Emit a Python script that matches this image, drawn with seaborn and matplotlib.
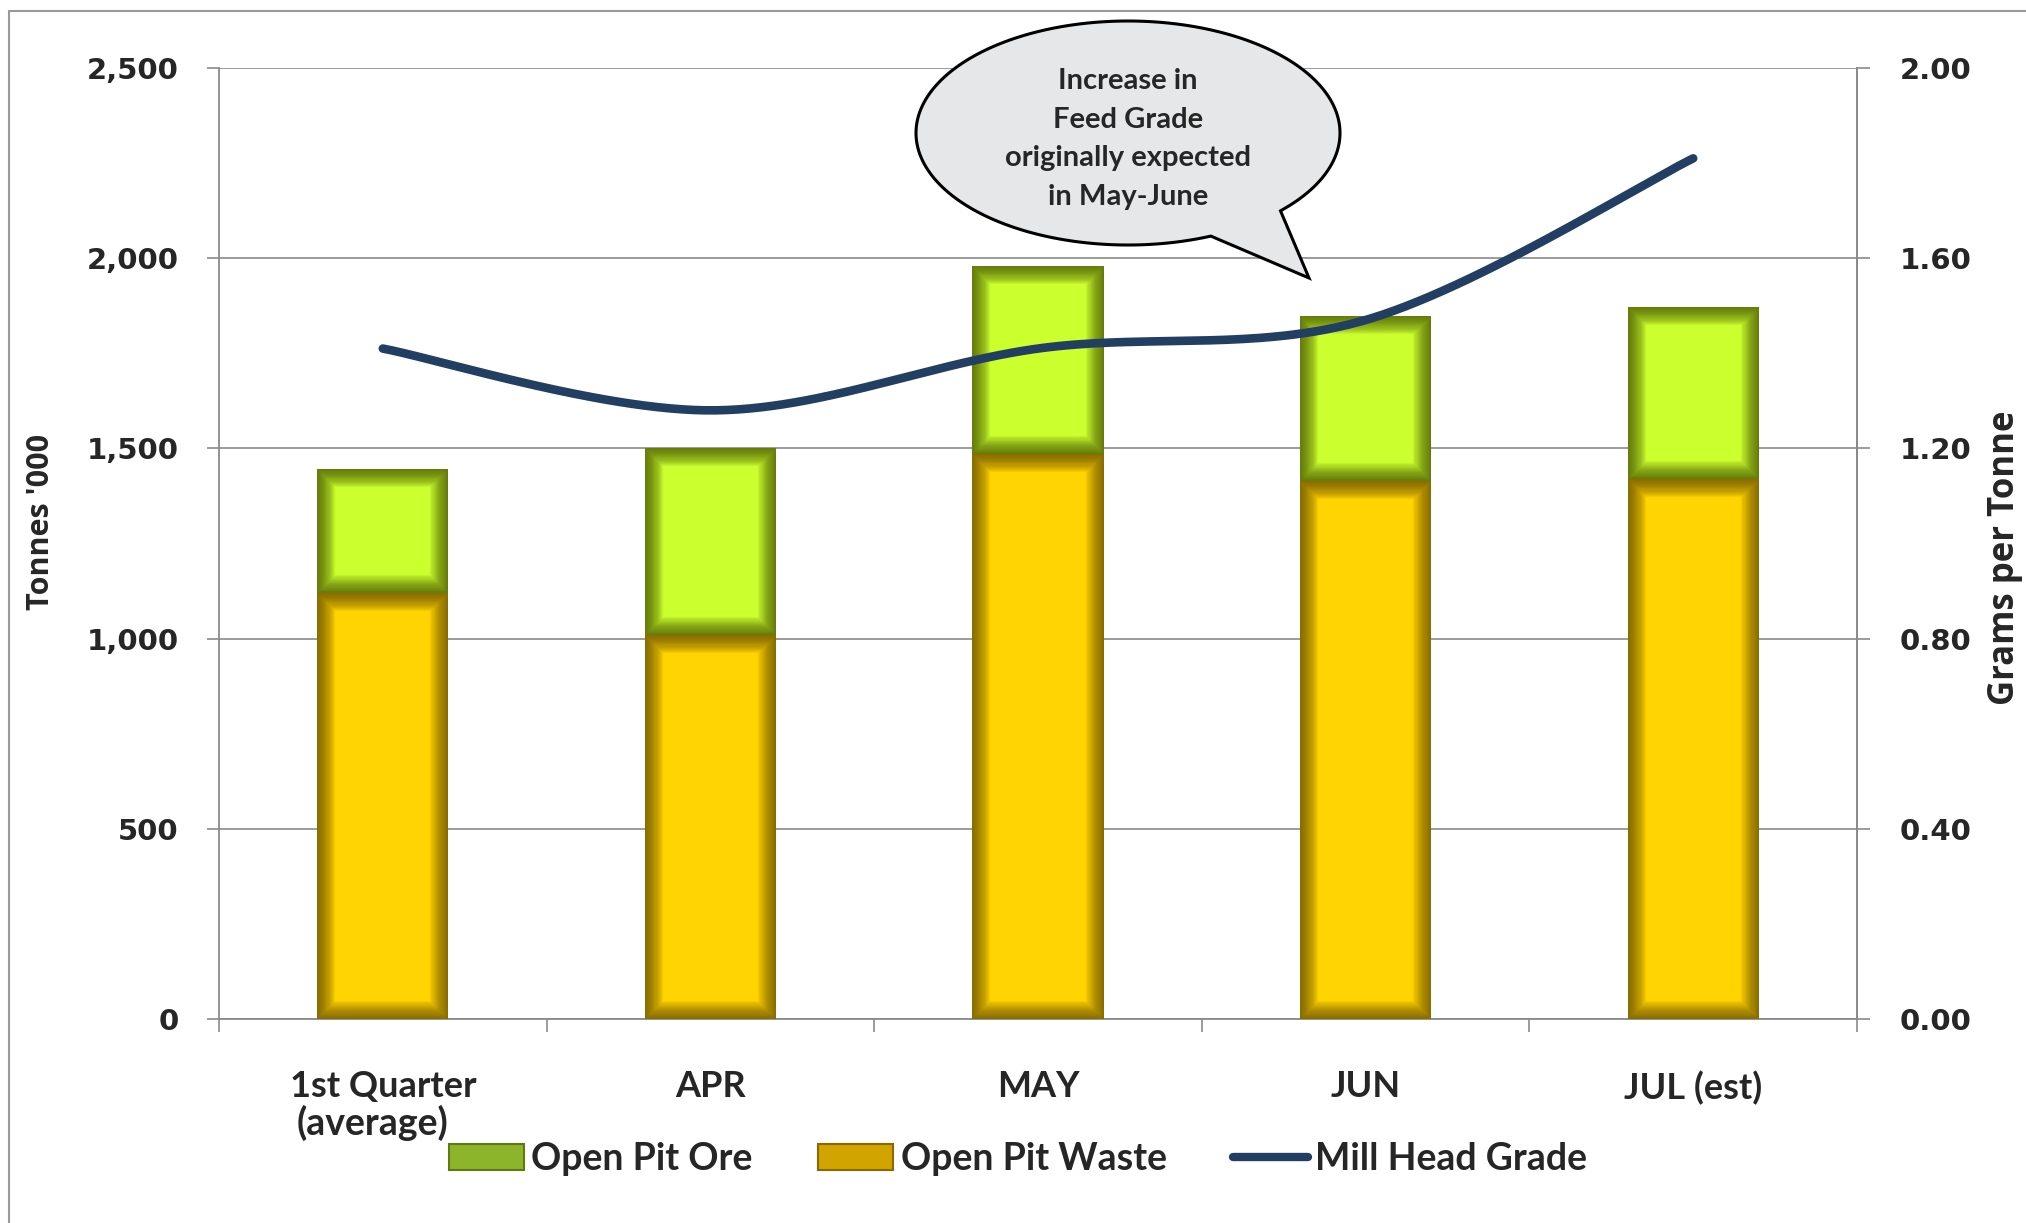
import numpy as np
import pandas as pd
import matplotlib
matplotlib.use("Agg")
import matplotlib.pyplot as plt
import seaborn as sns
from matplotlib.patches import Rectangle, Patch, Polygon
from matplotlib.lines import Line2D
from matplotlib.ticker import FuncFormatter, FixedLocator

# ---------------- data ----------------
categories = ["1st Quarter", "APR", "MAY", "JUN", "JUL (est)"]
open_pit_waste = [1120, 1010, 1485, 1415, 1420]      # Tonnes '000
open_pit_ore = [325, 490, 495, 433, 452]             # Tonnes '000
mill_head_grade = [1.41, 1.28, 1.41, 1.47, 1.81]      # grams per tonne
left_ticks = [0, 500, 1000, 1500, 2000, 2500]
right_ticks = [0.0, 0.4, 0.8, 1.2, 1.6, 2.0]
callout_lines = ["Increase in", "Feed Grade", "originally expected", "in May-June"]

# ---------------- style ----------------
sns.set_theme(style="white")
plt.rcParams["font.family"] = ["Lato", "DejaVu Sans"]

W, H = 2026, 1223
fig = plt.figure(figsize=(W / 100, H / 100), dpi=100)
ax = fig.add_axes([219 / W, 1 - 1019 / H, (1857 - 219) / W, (1019 - 68) / H])

ORE = "#CCFF2E"
ORE_EDGE = "#3E4A00"
WASTE = "#FFD400"
WASTE_EDGE = "#5E4600"
LINE = "#233E63"
GRID = "#8A8A8A"

df = pd.DataFrame({"cat": categories, "waste": open_pit_waste, "ore": open_pit_ore})

# waste segments through seaborn
sns.barplot(data=df, x="cat", y="waste", color=WASTE, saturation=1, width=0.4,
            ax=ax, zorder=3, linewidth=0)
waste_patches = list(ax.patches)
# ore segments stacked on top
xpos = [p.get_x() + p.get_width() / 2 for p in waste_patches]
ore_bars = ax.bar(xpos, df["ore"], bottom=df["waste"], width=0.4, color=ORE,
                  linewidth=0, zorder=3)


def soft_edge(patch, dark):
    for lw in np.linspace(26, 1.5, 16):
        r = Rectangle(patch.get_xy(), patch.get_width(), patch.get_height(),
                      fill=False, edgecolor=dark, lw=lw, alpha=0.07, zorder=4)
        ax.add_patch(r)
        r.set_clip_path(patch)


for p in waste_patches:
    soft_edge(p, WASTE_EDGE)
for p in ore_bars.patches:
    soft_edge(p, ORE_EDGE)

ax.set_xlim(-0.5, len(categories) - 0.5)
ax.set_ylim(0, 2500)
ax.yaxis.set_major_locator(FixedLocator(left_ticks))
ax.yaxis.set_major_formatter(FuncFormatter(lambda v, _: f"{int(v):,}"))
ax.grid(axis="y", color=GRID, lw=1.2, zorder=0)
ax.set_axisbelow(True)
ax.set_xlabel("")
ax.set_ylabel("")

ax.spines["top"].set_visible(False)
for s in ["left", "bottom", "right"]:
    ax.spines[s].set_color(GRID)
    ax.spines[s].set_linewidth(1.3)

ax.tick_params(axis="y", which="major", direction="out", length=9, width=1.2,
               color=GRID, pad=20, left=True)
for t in ax.get_yticklabels():
    t.set_fontfamily("DejaVu Sans")
    t.set_fontweight("bold")
    t.set_fontsize(21)

ax.set_xticks(range(len(categories)))
ax.set_xticklabels(categories, fontsize=26, fontweight="bold")
ax.tick_params(axis="x", which="major", length=0, pad=37)
ax.xaxis.set_minor_locator(FixedLocator(np.arange(-0.5, len(categories), 1.0)))
ax.tick_params(axis="x", which="minor", direction="out", length=9, width=1.2,
               color=GRID, bottom=True)

# second line under the first category label
ax.text(-0.03, -0.109, "(average)", transform=ax.get_xaxis_transform(),
        ha="center", va="center", fontsize=27, fontweight="bold")

# ---------------- line on secondary axis ----------------
ax2 = ax.twinx()
ax2.set_ylim(0, 2.0)
ax2.yaxis.set_major_locator(FixedLocator(right_ticks))
ax2.yaxis.set_major_formatter(FuncFormatter(lambda v, _: f"{v:.2f}"))
ax2.grid(False)
for s in ["top", "left", "bottom"]:
    ax2.spines[s].set_visible(False)
ax2.spines["right"].set_color(GRID)
ax2.spines["right"].set_linewidth(1.3)
ax2.tick_params(axis="y", direction="out", length=9, width=1.2, color=GRID,
                pad=22, right=True)
for t in ax2.get_yticklabels():
    t.set_fontfamily("DejaVu Sans")
    t.set_fontweight("bold")
    t.set_fontsize(21)

# smooth (Excel-style Catmull-Rom) curve through the data points
px = np.arange(len(mill_head_grade), dtype=float)
py = np.asarray(mill_head_grade, dtype=float)
P = np.column_stack([px, py])
Pext = np.vstack([P[0], P, P[-1]])
sx, sy = [], []
tt = np.linspace(0, 1, 60)
for i in range(len(P) - 1):
    p0, p1, p2, p3 = Pext[i], Pext[i + 1], Pext[i + 2], Pext[i + 3]
    c1 = p1 + (p2 - p0) / 6.0
    c2 = p2 - (p3 - p1) / 6.0
    b = ((1 - tt) ** 3)[:, None] * p1 + (3 * (1 - tt) ** 2 * tt)[:, None] * c1 \
        + (3 * (1 - tt) * tt ** 2)[:, None] * c2 + (tt ** 3)[:, None] * p2
    sx.extend(b[:, 0]); sy.extend(b[:, 1])
sns.lineplot(x=sx, y=sy, ax=ax2, color=LINE, lw=6.2, sort=False,
             solid_capstyle="round", estimator=None)
ax2.set_xlim(ax.get_xlim())
ax2.set_ylabel("")
ax2.set_xlabel("")

# axis titles
fig.text(41 / W, 1 - 522 / H, "Tonnes '000", rotation=90, ha="center", va="center",
         fontsize=22, fontweight="bold", family=["Open Sans", "DejaVu Sans"])
fig.text(2005 / W, 1 - 558 / H, "Grams per Tonne", rotation=90, ha="center",
         va="center", fontsize=25, fontweight="bold", family=["Open Sans", "DejaVu Sans"])

# ---------------- legend ----------------
handles = [Patch(facecolor="#8DB52B", edgecolor="#5E7A10", lw=1.5),
           Patch(facecolor="#D2A400", edgecolor="#8A6A00", lw=1.5),
           Line2D([0], [0], color=LINE, lw=6)]
labels = ["Open Pit Ore", "Open Pit Waste", "Mill Head Grade"]
fig.legend(handles, labels, loc="center", bbox_to_anchor=(1018 / W, 1 - 1159 / H),
           ncol=3, frameon=False, prop={"family": "Lato", "weight": "bold", "size": 27},
           handlelength=2.0, handleheight=0.7, handletextpad=0.2, columnspacing=1.75)

# ---------------- callout bubble ----------------
cx, cy, a, bb = 1128, 133, 212, 112
t1, t2 = np.deg2rad(67), np.deg2rad(44 + 360)
ang = np.linspace(t1, t2, 300)
ex = cx + a * np.cos(ang)
ey = cy + bb * np.sin(ang)
pts = np.column_stack([ex, ey])
pts = np.vstack([pts, [1309, 278]])
pts_fig = np.column_stack([pts[:, 0] / W, 1 - pts[:, 1] / H])
bubble = Polygon(pts_fig, closed=True, transform=fig.transFigure, facecolor="#E6E7E9",
                 edgecolor="black", lw=2.2, zorder=10)
fig.add_artist(bubble)
for i, line in enumerate(callout_lines):
    fig.text(cx / W, 1 - (81 + 38.5 * i) / H, line, ha="center", va="center",
             fontsize=21, fontweight="bold", zorder=11)

# ---------------- outer frame ----------------
fig.add_artist(Line2D([9 / W, 9 / W], [0, 1 - 11 / H], transform=fig.transFigure,
                      color="#9A9A9A", lw=1.5))
fig.add_artist(Line2D([9 / W, 1], [1 - 11 / H, 1 - 11 / H], transform=fig.transFigure,
                      color="#9A9A9A", lw=1.5))

fig.savefig("out.png", dpi=100)
